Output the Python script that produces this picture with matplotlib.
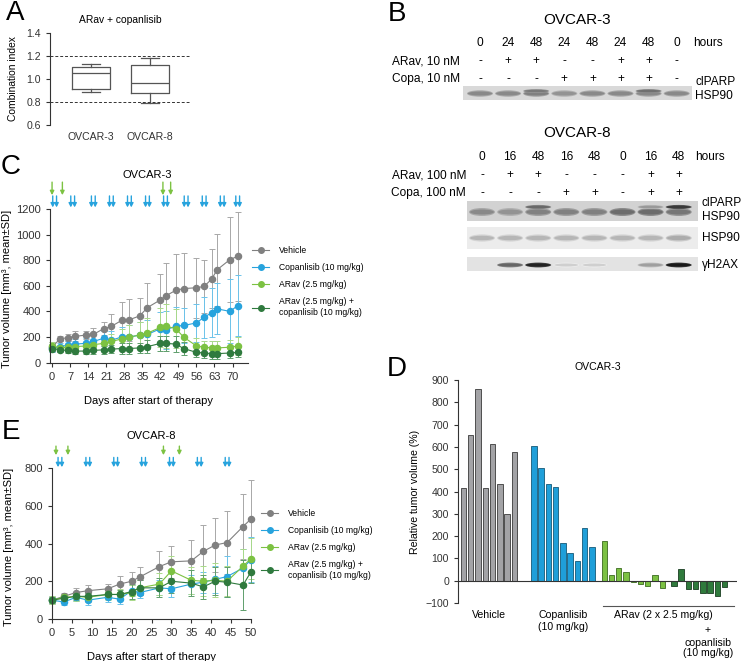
import matplotlib
matplotlib.use("Agg")
import matplotlib.pyplot as plt
import matplotlib.transforms as mtransforms
from matplotlib.patches import Rectangle, Ellipse
from matplotlib.lines import Line2D

plt.rcParams['font.family'] = ['Liberation Sans', 'DejaVu Sans']
plt.rcParams['axes.linewidth'] = 0.8
plt.rcParams['axes.edgecolor'] = '#333333'
plt.rcParams['xtick.color'] = '#333333'
plt.rcParams['ytick.color'] = '#333333'

# ---------------- data ----------------
# A: combination index
ci_lines = ["OVCAR-3", "OVCAR-8"]
ci_med = [1.05, 0.965]
ci_q1 = [0.915, 0.875]
ci_q3 = [1.105, 1.125]
ci_min = [0.89, 0.79]
ci_max = [1.13, 1.18]

# B: western blots (band intensities 0..1)
b3_hours = ["0", "24", "48", "24", "48", "24", "48", "0"]
b3_arav = ["-", "+", "+", "-", "-", "+", "+", "-"]
b3_copa = ["-", "-", "-", "+", "+", "+", "+", "-"]
b3_hsp = [0.55, 0.55, 0.6, 0.5, 0.55, 0.55, 0.55, 0.55]
b3_parp = [0.0, 0.0, 0.5, 0.0, 0.0, 0.0, 0.55, 0.0]

b8_hours = ["0", "16", "48", "16", "48", "0", "16", "48"]
b8_arav = ["-", "+", "+", "-", "-", "-", "+", "+"]
b8_copa = ["-", "-", "-", "+", "+", "-", "+", "+"]
b8_hsp = [0.55, 0.5, 0.6, 0.6, 0.6, 0.7, 0.7, 0.65]
b8_parp = [0.0, 0.0, 0.45, 0.0, 0.0, 0.0, 0.2, 0.7]
b8_hsp2 = [0.45, 0.45, 0.45, 0.45, 0.45, 0.45, 0.45, 0.5]
b8_h2ax = [0.0, 0.6, 0.95, 0.05, 0.05, 0.0, 0.3, 1.0]

# C: OVCAR-3 xenograft
days_c = [0, 3, 6, 9, 13, 16, 20, 23, 27, 30, 34, 37, 42, 44, 48, 51, 56, 59, 62, 64, 69, 72]
veh_c = [120, 185, 195, 205, 215, 220, 265, 283, 330, 335, 365, 430, 490, 520, 565, 578, 585, 595, 655, 725, 805, 830]
veh_c_sd = [40, 20, 30, 40, 30, 50, 50, 100, 140, 165, 140, 190, 205, 260, 280, 280, 235, 205, 230, 280, 330, 350]
cop_c = [115, 125, 135, 145, 150, 165, 190, 175, 200, 200, 215, 220, 265, 255, 285, 290, 310, 355, 390, 420, 400, 445]
cop_c_sd = [30, 30, 35, 40, 45, 50, 60, 70, 80, 90, 100, 110, 130, 150, 150, 140, 150, 160, 190, 200, 250, 240]
arv_c = [130, 115, 120, 125, 130, 140, 150, 165, 185, 200, 215, 230, 275, 285, 265, 200, 130, 120, 115, 115, 120, 130]
arv_c_sd = [30, 20, 25, 30, 30, 40, 50, 60, 80, 90, 100, 120, 150, 170, 150, 80, 60, 50, 50, 50, 60, 70]
cmb_c = [110, 100, 95, 90, 90, 95, 100, 105, 110, 110, 115, 125, 150, 150, 145, 110, 80, 75, 70, 70, 75, 80]
cmb_c_sd = [20, 20, 20, 20, 20, 25, 30, 30, 40, 40, 40, 50, 60, 60, 60, 50, 40, 40, 40, 40, 40, 40]
arav_dose_c = [0, 4, 43, 46]
copa_dose_c = [1, 8, 16, 23, 30, 37, 44, 52, 59, 66, 72]

# E: OVCAR-8 xenograft
days_e = [0, 3, 6, 9, 14, 17, 20, 22, 27, 30, 35, 38, 41, 44, 48, 50]
veh_e = [100, 120, 140, 150, 160, 185, 200, 222, 278, 303, 308, 358, 392, 405, 490, 530]
veh_e_sd = [20, 20, 25, 30, 25, 45, 50, 55, 80, 85, 112, 140, 145, 165, 170, 205]
cop_e = [100, 90, 115, 100, 115, 105, 150, 140, 165, 160, 185, 195, 210, 225, 270, 315]
cop_e_sd = [15, 15, 20, 25, 25, 25, 30, 30, 40, 45, 50, 55, 70, 110, 100, 120]
arv_e = [100, 115, 120, 115, 130, 130, 140, 165, 185, 255, 205, 200, 205, 200, 280, 320]
arv_e_sd = [20, 20, 25, 25, 30, 30, 40, 40, 60, 80, 70, 80, 90, 80, 90, 110]
cmb_e = [100, 110, 120, 120, 130, 130, 145, 165, 165, 200, 190, 170, 200, 195, 180, 250]
cmb_e_sd = [15, 15, 20, 20, 25, 25, 40, 40, 50, 60, 70, 65, 75, 80, 130, 60]
arav_dose_e = [1, 4, 28, 32]
copa_dose_e = [2, 9, 16, 23, 30, 37, 44]

# D: relative tumor volume per animal
rtv_vehicle = [415, 655, 860, 415, 615, 432, 300, 575]
rtv_copa = [605, 505, 435, 420, 170, 125, 88, 237, 152]
rtv_arav = [177, 25, 58, 40, -6, -16, -25, 25, -33]
rtv_combo = [-23, 52, -36, -36, -54, -53, -70, -30]

group_names = ["Vehicle", "Copanlisib (10 mg/kg)", "ARav (2.5 mg/kg)",
               "ARav (2.5 mg/kg) +\ncopanlisib (10 mg/kg)"]
c_gray, c_blue, c_lgreen, c_dgreen = '#808080', '#27a3dd', '#7cc242', '#2f7a3e'
e_gray, e_blue, e_lgreen, e_dgreen = '#a8a8a8', '#6cc3ea', '#a9d98a', '#5f9e6c'

W, H = 743, 661
fig = plt.figure(figsize=(W / 100, H / 100), dpi=100)


def px_axes(x0, y0, x1, y1):
    return fig.add_axes([x0 / W, 1 - y1 / H, (x1 - x0) / W, (y1 - y0) / H])


def style(ax):
    ax.spines['top'].set_visible(False)
    ax.spines['right'].set_visible(False)
    ax.tick_params(length=3, width=0.8)


# ---------------- A ----------------
axA = px_axes(50, 33, 190, 125)
stats = [dict(med=m, q1=a, q3=b, whislo=lo, whishi=hi, label=n)
         for n, m, a, b, lo, hi in zip(ci_lines, ci_med, ci_q1, ci_q3, ci_min, ci_max)]
lp = dict(color='#555555', lw=0.9)
axA.bxp(stats, positions=[1, 2], widths=0.66, showfliers=False, capwidths=0.32,
        boxprops=lp, whiskerprops=lp, capprops=lp, medianprops=lp)
axA.axhline(1.2, color='#333333', lw=0.7, ls=(0, (3, 2)))
axA.axhline(0.8, color='#333333', lw=0.7, ls=(0, (3, 2)))
axA.set_xlim(0.305, 2.678)
axA.set_ylim(0.6, 1.4)
axA.set_yticks([0.6, 0.8, 1.0, 1.2, 1.4])
style(axA)
axA.spines['bottom'].set_visible(False)
axA.tick_params(axis='x', length=0, labelsize=7.6, pad=5)
axA.tick_params(axis='y', labelsize=7.6)
axA.set_ylabel("Combination index", fontsize=7.4)
axA.yaxis.set_label_coords(-0.23, 0.5)


# ---------------- C and E ----------------
def growth(ax, days, series, xlim, ylim, xticks, yticks, label_x):
    for (m, sd), c, ec in series:
        ax.errorbar(days, m, yerr=sd, color=c, ecolor=ec, lw=0.8, elinewidth=0.7,
                    capsize=2.5, capthick=0.7, marker='o', ms=4.4, mec=c, clip_on=False)
    ax.set_xlim(*xlim)
    ax.set_ylim(*ylim)
    ax.set_xticks(xticks)
    ax.set_yticks(yticks)
    style(ax)
    ax.tick_params(labelsize=8)
    ax.set_ylabel("Tumor volume [mm³, mean±SD]", fontsize=8)
    ax.yaxis.set_label_coords(label_x, 0.48)
    ax.set_xlabel("Days after start of therapy", fontsize=8, labelpad=10)


def dose_arrows(ax, days, color, y0, y1, double):
    offs = (-1.9, 1.9) if double else (0.0,)
    for d in days:
        for o in offs:
            tr = ax.get_xaxis_transform() + mtransforms.ScaledTranslation(o / 100, 0, fig.dpi_scale_trans)
            ax.annotate('', xy=(d, y1), xytext=(d, y0), xycoords=tr, textcoords=tr,
                        annotation_clip=False,
                        arrowprops=dict(arrowstyle='-|>', color=color, lw=1.0,
                                        mutation_scale=6, shrinkA=0, shrinkB=0))


def growth_legend(ax, x, y):
    handles = [Line2D([], [], color=c, marker='o', ms=4, lw=0.8)
               for c in (c_gray, c_blue, c_lgreen, c_dgreen)]
    ax.legend(handles, group_names, loc='upper left', bbox_to_anchor=(x, y),
              frameon=False, fontsize=6.2, handlelength=2.0, handletextpad=1.1,
              labelspacing=0.95, borderaxespad=0, borderpad=0)


axC = px_axes(50, 209, 248, 362.6)
growth(axC, days_c,
       [((veh_c, veh_c_sd), c_gray, e_gray), ((cop_c, cop_c_sd), c_blue, e_blue),
        ((arv_c, arv_c_sd), c_lgreen, e_lgreen), ((cmb_c, cmb_c_sd), c_dgreen, e_dgreen)],
       (-0.8, 76), (0, 1200), range(0, 71, 7), range(0, 1201, 200), -0.19)
dose_arrows(axC, arav_dose_c, c_lgreen, 1.175, 1.090, False)
dose_arrows(axC, copa_dose_c, c_blue, 1.085, 1.010, True)
growth_legend(axC, 1.02, 0.76)

axE = px_axes(52, 468, 251, 619)
growth(axE, days_e,
       [((veh_e, veh_e_sd), c_gray, e_gray), ((cop_e, cop_e_sd), c_blue, e_blue),
        ((arv_e, arv_e_sd), c_lgreen, e_lgreen), ((cmb_e, cmb_e_sd), c_dgreen, e_dgreen)],
       (0, 50), (0, 800), range(0, 51, 5), range(0, 801, 200), -0.19)
dose_arrows(axE, arav_dose_e, c_lgreen, 1.145, 1.085, False)
dose_arrows(axE, copa_dose_e, c_blue, 1.070, 1.005, True)
growth_legend(axE, 1.05, 0.73)

# ---------------- D ----------------
axD = px_axes(458, 380, 737, 603)
groups = [(rtv_vehicle, 0.0, '#a3a3a6', '#3a3a3a'),
          (rtv_copa, 9.7, '#1f9fd9', '#155a78'),
          (rtv_arav, 19.4, '#7cc143', '#3b6a20'),
          (rtv_combo, 29.0, '#2f7a3c', '#1a3d21')]
for vals, start, fc, ec in groups:
    axD.bar([start + i for i in range(len(vals))], vals, width=0.75,
            color=fc, edgecolor=ec, lw=0.6)
axD.axhline(0, color='#333333', lw=0.8)
axD.set_xlim(-0.76, 37.7)
axD.set_ylim(-100, 900)
axD.set_yticks(range(-100, 901, 100))
style(axD)
axD.spines['bottom'].set_visible(False)
axD.set_xticks([])
axD.tick_params(axis='y', labelsize=7.6)
axD.set_ylabel("Relative tumor volume (%)", fontsize=7.6)
axD.yaxis.set_label_coords(-0.135, 0.5)
tk = dict(fontsize=7.6, ha='center', va='center', clip_on=False)
axD.text(3.5, -155, "Vehicle", **tk)
axD.text(13.7, -155, "Copanlisib", **tk)
axD.text(13.7, -208, "(10 mg/kg)", **tk)
axD.plot([19.2, 37.3], [-114, -114], color='#555555', lw=0.8, clip_on=False)
axD.text(27.5, -155, "ARav (2 x 2.5 mg/kg)", **tk)
axD.text(33.7, -221, "+", **tk)
axD.text(33.7, -280, "copanlisib", **tk)
axD.text(33.7, -325, "(10 mg/kg)", **tk)

# ---------------- overlay: letters, titles, blots ----------------
ov = fig.add_axes([0, 0, 1, 1])
ov.set_xlim(0, W)
ov.set_ylim(H, 0)
ov.axis('off')

for letter, x, y in [("A", 15, 13), ("B", 397, 14), ("C", 11, 167), ("D", 397, 369), ("E", 11, 432)]:
    ov.text(x, y, letter, fontsize=20, ha='center', va='center')

ov.text(120, 20, "ARav + copanlisib", fontsize=7.4, ha='center', va='center')
ov.text(147, 175, "OVCAR-3", fontsize=8, ha='center', va='center')
ov.text(151, 436, "OVCAR-8", fontsize=8, ha='center', va='center')
ov.text(598, 367, "OVCAR-3", fontsize=7.6, ha='center', va='center')

# blots
lane_x = [480 + 28.1 * i for i in range(8)]
fs = 8.6


def lane_rows(y_hours, y_arav, y_copa, hours, arav, copa, lab_x, arav_lab, copa_lab, shift):
    for i, x in enumerate(lane_x):
        ov.text(x + shift, y_hours, hours[i], fontsize=fs, ha='center', va='center')
        ov.text(x + shift, y_arav, arav[i], fontsize=fs, ha='center', va='center')
        ov.text(x + shift, y_copa, copa[i], fontsize=fs, ha='center', va='center')
    ov.text(lane_x[-1] + shift + 16, y_hours, "hours", fontsize=fs, ha='left', va='center')
    ov.text(lab_x, y_arav, arav_lab, fontsize=fs, ha='right', va='center')
    ov.text(lab_x, y_copa, copa_lab, fontsize=fs, ha='right', va='center')


def blot(x0, x1, y0, y1, bg, bands, yb, hb, base, shift):
    ov.add_patch(Rectangle((x0, y0), x1 - x0, y1 - y0, color=bg, lw=0))
    for i, v in enumerate(bands):
        if v <= 0:
            continue
        g = base - 0.75 * v
        ov.add_patch(Ellipse((lane_x[i] + shift, yb), 26, hb * 1.6, color=str(min(1, g + 0.12)), lw=0))
        ov.add_patch(Ellipse((lane_x[i] + shift, yb), 24, hb, color=str(g), lw=0))


ov.text(577, 20, "OVCAR-3", fontsize=11, ha='center', va='center')
lane_rows(43, 61, 79, b3_hours, b3_arav, b3_copa, 460, "ARav, 10 nM", "Copa, 10 nM", 0)
blot(463, 692, 86, 100, '#d9d9d9', b3_hsp, 93.5, 4.0, 0.95, 0)
blot(463, 692, 86, 100, (0, 0, 0, 0), b3_parp, 91, 2.4, 0.85, 0)
ov.text(695, 82, "clPARP", fontsize=fs, ha='left', va='center')
ov.text(695, 96, "HSP90", fontsize=fs, ha='left', va='center')

ov.text(577, 133, "OVCAR-8", fontsize=11, ha='center', va='center')
lane_rows(157, 175, 193, b8_hours, b8_arav, b8_copa, 466, "ARav, 100 nM", "Copa, 100 nM", 2)
blot(467, 698, 201, 221, '#d2d2d2', b8_hsp, 212, 5.0, 0.95, 2)
blot(467, 698, 201, 221, (0, 0, 0, 0), b8_parp, 207, 2.6, 0.75, 2)
ov.text(702, 203, "clPARP", fontsize=fs, ha='left', va='center')
ov.text(702, 217, "HSP90", fontsize=fs, ha='left', va='center')
blot(467, 698, 227, 249, '#ececec', b8_hsp2, 238, 4.5, 1.05, 2)
ov.text(702, 238, "HSP90", fontsize=fs, ha='left', va='center')
blot(467, 698, 257, 271, '#e3e3e3', b8_h2ax, 265, 3.0, 0.85, 2)
ov.text(702, 265, "γH2AX", fontsize=fs, ha='left', va='center')

fig.savefig("out.png", dpi=100)
